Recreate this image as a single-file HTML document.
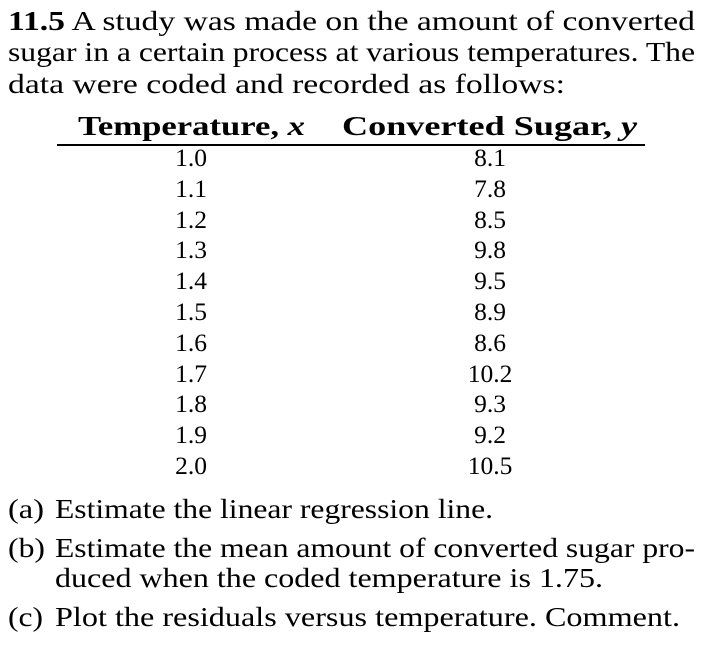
<!DOCTYPE html>
<html><head><meta charset="utf-8"><style>
body{margin:0;background:#fff;width:720px;height:653px;position:relative;overflow:hidden;font-family:"Liberation Serif",serif;color:#000;}
.l{position:absolute;font-size:27px;line-height:1;white-space:nowrap;transform-origin:0 0;}
.c{position:absolute;font-size:25.5px;line-height:1;text-align:center;}
.rule{position:absolute;left:57px;width:588px;top:144px;height:1.5px;background:#000;}
</style></head><body>
<div>
<div class="l fit" data-w="687" style="left:8px;top:8px;"><b>11.5</b> A study was made on the amount of converted</div>
<div class="l fit" data-w="687" style="left:8px;top:39px;">sugar in a certain process at various temperatures. The</div>
<div class="l fit" data-w="557" style="left:8px;top:71px;">data were coded and recorded as follows:</div>
</div>
<div>
<div class="l fit" data-w="227" style="left:78px;top:113px;font-weight:bold;">Temperature, <i>x</i></div>
<div class="l fit" data-w="295" style="left:342px;top:113px;font-weight:bold;">Converted Sugar, <i>y</i></div>
<div class="rule"></div>
<div id="rows"></div>
</div>
<div>
<div class="l fit" data-w="36" style="left:8px;top:496px;">(a)</div>
<div class="l fit" data-w="438" style="left:55px;top:496px;">Estimate the linear regression line.</div>
<div class="l fit" data-w="37" style="left:8px;top:535px;">(b)</div>
<div class="l fit" data-w="640" style="left:55px;top:535px;">Estimate the mean amount of converted sugar pro-</div>
<div class="l fit" data-w="548" style="left:55px;top:565px;">duced when the coded temperature is 1.75.</div>
<div class="l fit" data-w="35" style="left:8px;top:604px;">(c)</div>
<div class="l fit" data-w="625" style="left:55px;top:604px;">Plot the residuals versus temperature. Comment.</div>
</div>
<script>
const xs=["1.0","1.1","1.2","1.3","1.4","1.5","1.6","1.7","1.8","1.9","2.0"];
const ys=["8.1","7.8","8.5","9.8","9.5","8.9","8.6","10.2","9.3","9.2","10.5"];
const rows=document.getElementById('rows');
xs.forEach((x,i)=>{
 const top=145+i*30.8;
 const a=document.createElement('div');a.className='c';a.style.left='141px';a.style.width='100px';a.style.top=top+'px';a.textContent=x;
 
 
 rows.appendChild(a);
 const b=document.createElement('div');b.className='c';b.style.left='440px';b.style.width='100px';b.style.top=top+'px';b.textContent=ys[i];
 
 
 rows.appendChild(b);
});
document.querySelectorAll('.fit').forEach(el=>{
 const w=el.getBoundingClientRect().width;
 el.style.transform='scaleX('+(parseFloat(el.dataset.w)/w)+')';
});
</script>
</body></html>
